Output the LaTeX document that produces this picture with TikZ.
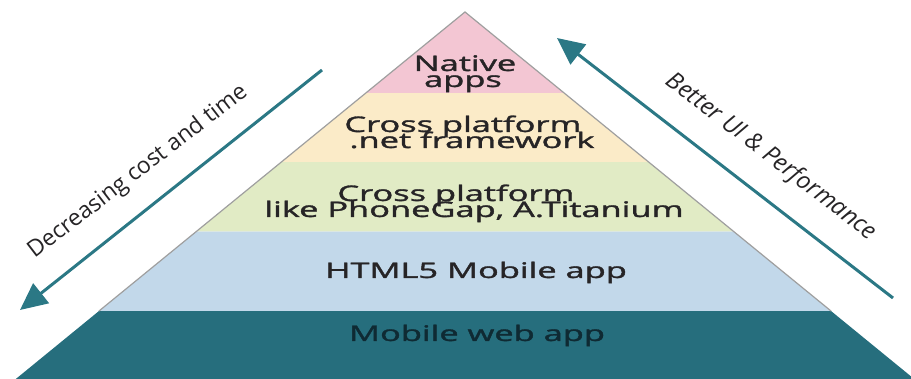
\documentclass[tikz,border=0pt]{standalone}
\usepackage{fontspec}
\setmainfont{Open Sans}
\newfontfamily\bandfont{Open Sans}[FakeBold=1.3]
\usetikzlibrary{arrows.meta}

\definecolor{tierpink}{HTML}{F3C6D3}
\definecolor{tieryellow}{HTML}{FBEBC8}
\definecolor{tiergreen}{HTML}{E1EBC5}
\definecolor{tierblue}{HTML}{C2D8EA}
\definecolor{tierteal}{HTML}{266E7D}
\definecolor{arrowteal}{HTML}{2B7885}
\definecolor{inkdark}{HTML}{262426}
\definecolor{inkteal}{HTML}{0F2A33}

\begin{document}
\begin{tikzpicture}[x=1pt,y=-1pt,
  tiertext/.style={font=\bandfont\fontsize{21.5}{21.5}\selectfont, text=inkdark,
                   inner sep=0pt, anchor=base, xscale=1.6},
  sidetext/.style={font=\fontsize{23}{23}\selectfont, text=inkdark, inner sep=0pt},
  trend/.style={draw=arrowteal, line width=3pt,
                -{Triangle[length=27pt,width=25pt]}}]

\useasboundingbox (0,0) rectangle (911,379);
\clip (0,0) rectangle (911,379);

% pyramid tiers, apex at (465,12), edge slope 1.224 px per px
\fill[tierteal]   (99,311)    -- (831,311)   -- (914.2,379) -- (15.8,379) -- cycle;
\fill[tierblue]   (196.3,231.5) -- (733.7,231.5) -- (831,311) -- (99,311) -- cycle;
\fill[tiergreen]  (281.4,162) -- (648.6,162) -- (733.7,231.5) -- (196.3,231.5) -- cycle;
\fill[tieryellow] (365.9,93)  -- (564.1,93)  -- (648.6,162) -- (281.4,162) -- cycle;
\fill[tierpink]   (465,12)    -- (564.1,93)  -- (365.9,93) -- cycle;
\draw[gray!75, line width=1.2pt] (99,311) -- (465,12) -- (831,311);

% tier labels
\node[tiertext] (nat1) at (465,71)  {Native};
\node[tiertext] (nat2) at (463,87)  {apps};
\node[tiertext] (net1) at (463,132) {Cross platform};
\node[tiertext] (net2) at (472,148) {.net framework};
\node[tiertext] (gap1) at (456,201) {Cross platform};
\node[tiertext] (gap2) at (474,217) {like PhoneGap, A.Titanium};
\node[tiertext] (html) at (476,278) {HTML5 Mobile app};
\node[tiertext, text=inkteal] (web) at (477,341) {Mobile web app};

% trend arrows along both flanks
\coordinate (costtail) at (322,70);
\coordinate (costtip)  at (20,310);
\coordinate (uitail)   at (893,298);
\coordinate (uitip)    at (557,38);
\draw[trend] (costtail) -- (costtip);
\draw[trend] (uitail) -- (uitip);

\node[sidetext, rotate=37.5] (cost) at (138,172) {Decreasing cost and time};
\node[sidetext, rotate=-37.5, font=\itshape\fontsize{24}{24}\selectfont] (ui) at (771,157) {Better UI \& Performance};

\end{tikzpicture}
\end{document}
